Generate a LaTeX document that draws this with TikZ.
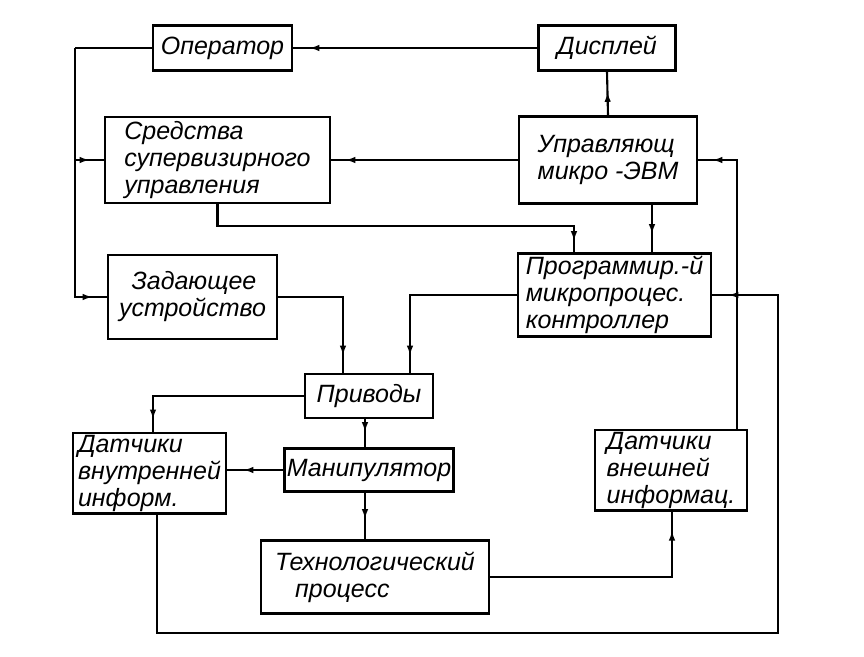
\documentclass[tikz,border=0pt]{standalone}
\usepackage{fontspec}
\setmainfont{Liberation Sans}
\usetikzlibrary{arrows.meta,decorations.markings}
\tikzset{
  box/.style={draw, line width=2.6pt, inner sep=2pt,
    font=\fontsize{25}{27}\selectfont\itshape, align=left},
  conn/.style={line width=2.1pt},
  tipat/.style={postaction={decorate}, decoration={markings,
    mark=at position #1 with {\arrow{Latex[length=10pt,width=6.5pt]}}}},
}
\begin{document}
\begin{tikzpicture}[x=1pt,y=-1pt]
\fill[white] (0,0) rectangle (864,656);
\useasboundingbox (0,0) rectangle (864,656);

% boxes
\node[box, minimum width=139pt, minimum height=45pt] (op)   at (222.5,48) {Оператор};
\node[box, minimum width=137pt, minimum height=45pt] (disp) at (607,48) {Дисплей};
\node[box, minimum width=225pt, minimum height=86pt] (sred) at (217.5,160) {Средства\\супервизирного\\управления};
\node[box, minimum width=178pt, minimum height=87pt] (upr)  at (608,160) {Управляющ\\микро -ЭВМ};
\node[box, minimum width=193pt, minimum height=83pt] (prog) at (614.5,295) {Программир.-й\\микропроцес.\\контроллер};
\node[box, minimum width=169pt, minimum height=84pt] (zad)  at (192.5,297) {\hspace*{0.5em}Задающее\\устройство};
\node[box, minimum width=128pt, minimum height=44pt] (priv) at (369,396) {Приводы};
\node[box, minimum width=153pt, minimum height=80pt] (dvn)  at (149.5,473) {Датчики\\внутренней\\информ.};
\node[box, minimum width=154pt, minimum height=43pt] (man)  at (369,470) {Манипулятор};
\node[box, minimum width=228pt, minimum height=73pt] (tech) at (375,577) {Технологический\\\hspace*{0.8em}процесс};
\node[box, minimum width=152pt, minimum height=78pt] (dvsh) at (671,470) {Датчики\\внешней\\информац.};

% helper coordinates
\coordinate (bus) at (75,48);
\coordinate (rA) at (737,160);
\coordinate (rB) at (778,633);
\coordinate (lB) at (157,633);
\coordinate (s1) at (217.5,226);
\coordinate (s2) at (574,226);
\coordinate (z1) at (343,297);
\coordinate (p1) at (410,297);
\coordinate (q1) at (153,396);
\coordinate (t1) at (672,577);

% connectors
\draw[conn] (op.west) -- (bus);
\draw[conn, tipat=-14pt] (bus) |- (sred.west);
\draw[conn, tipat=-14pt] (bus) |- (zad.west);
\draw[conn, tipat=-16pt] (disp.west) -- (op.east);
\draw[conn, tipat=-20pt] (upr.north) -- (disp.south);
\draw[conn, tipat=-14pt] (upr.west) -- (sred.east);
\draw[conn, tipat=-14pt] (dvsh.north -| rA) -- (rA) -- (upr.east);
\draw[conn, tipat=-16pt] (dvn.south -| lB) -- (lB) -- (rB) |- (prog.east);
\draw[conn, tipat=-11pt] (sred.south) -- (s1) -- (s2) -- (prog.north -| s2);
\draw[conn, tipat=-18pt] (upr.south -| 652,0) -- (prog.north -| 652,0);
\draw[conn, tipat=-17pt] (zad.east) -| (priv.north -| z1);
\draw[conn, tipat=-17pt] (prog.west) -| (priv.north -| p1);
\draw[conn, tipat=-12pt] (priv.west) -| (dvn.north -| q1);
\draw[conn, tipat=-15pt] (priv.south -| 365,0) -- (man.north -| 365,0);
\draw[conn, tipat=-16pt] (man.west) -- (man.west -| dvn.east);
\draw[conn, tipat=-20pt] (man.south -| 365,0) -- (tech.north -| 365,0);
\draw[conn, tipat=-19pt] (tech.east) -| (dvsh.south -| t1);
\end{tikzpicture}
\end{document}
